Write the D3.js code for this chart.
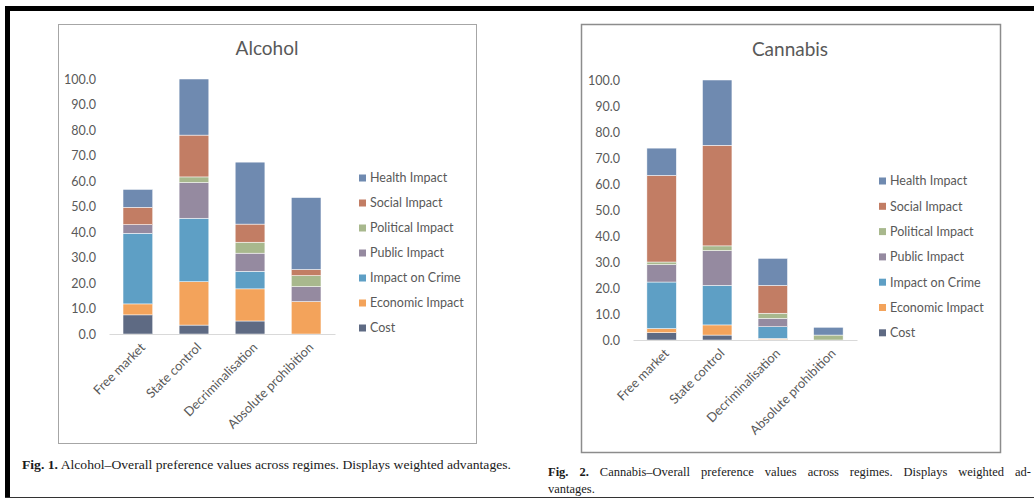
<!DOCTYPE html>
<html>
<head>
<meta charset="utf-8">
<script src="https://cdn.jsdelivr.net/npm/d3@7"></script>
<style>
  body { margin: 0; background: #fff; }
  svg { display: block; }
  .axis text { font-family: Lato, "Open Sans", sans-serif; fill: #595959; }
</style>
</head>
<body>
<svg id="page" width="1034" height="499"></svg>
<script>
// regimes on the x axis
const regimes = ['Free market', 'State control', 'Decriminalisation', 'Absolute prohibition'];

// series, bottom of the stack first
const criteria = ['Cost', 'Economic Impact', 'Impact on Crime', 'Public Impact', 'Political Impact', 'Social Impact', 'Health Impact'];
const criteriaColours = ['#5e6a83', '#f3a35b', '#5e9fc5', '#958aa0', '#a8b88d', '#c27d64', '#6f8ab0'];

// alcohol values per regime (same order as regimes)
const alcoholCost      = [7.5, 3.5, 5.1, 0];
const alcoholEconomic  = [4.3, 17.0, 12.6, 12.7];
const alcoholCrime     = [27.7, 24.9, 6.9, 0];
const alcoholPublic    = [3.4, 14.0, 7.1, 5.9];
const alcoholPolitical = [0, 2.2, 4.3, 4.3];
const alcoholSocial    = [6.8, 16.4, 7.1, 2.4];
const alcoholHealth    = [7.0, 22.0, 24.3, 28.2];

// cannabis values per regime
const cannabisCost      = [2.8, 1.9, 0.2, 0];
const cannabisEconomic  = [1.6, 3.9, 0.4, 0];
const cannabisCrime     = [17.9, 15.2, 4.5, 0];
const cannabisPublic    = [6.7, 13.4, 3.2, 0];
const cannabisPolitical = [1.0, 1.8, 2.0, 1.9];
const cannabisSocial    = [33.3, 38.7, 10.7, 0];
const cannabisHealth    = [10.5, 25.1, 10.4, 3.0];

const yTicks = [0, 10, 20, 30, 40, 50, 60, 70, 80, 90, 100];

// turn the series arrays into rows d3.stack can use
function buildRows(seriesList) {
  return regimes.map((r, i) => {
    const row = { regime: r };
    criteria.forEach((c, j) => { row[c] = seriesList[j][i]; });
    return row;
  });
}

const svg = d3.select('#page');

// page frame (scan border)
svg.append('rect').attr('x', 5).attr('y', 6).attr('width', 1029).attr('height', 5).attr('fill', '#000');
svg.append('rect').attr('x', 5).attr('y', 6).attr('width', 5).attr('height', 491).attr('fill', '#000');
svg.append('line').attr('x1', 5).attr('x2', 1034).attr('y1', 497.5).attr('y2', 497.5).attr('stroke', '#333');

function drawChart(cfg) {
  const g = svg.append('g');

  // chart box
  g.append('rect')
    .attr('x', cfg.box[0] + 0.5).attr('y', cfg.box[1] + 0.5)
    .attr('width', cfg.box[2]).attr('height', cfg.box[3])
    .attr('fill', '#fff').attr('stroke', cfg.boxStroke).attr('stroke-width', cfg.boxWidth);

  g.append('text')
    .attr('x', cfg.titleX).attr('y', cfg.titleY)
    .attr('text-anchor', 'middle')
    .style('font-family', 'Lato, "Open Sans", sans-serif')
    .style('font-size', '19px')
    .attr('fill', '#595959')
    .text(cfg.title);

  const x = d3.scaleBand().domain(regimes).range(cfg.xRange).paddingInner(0.47).paddingOuter(0.25);
  const y = d3.scaleLinear().domain([0, 100]).range(cfg.yRange);

  const stacked = d3.stack().keys(criteria)(buildRows(cfg.series));
  const colour = d3.scaleOrdinal().domain(criteria).range(criteriaColours);

  g.selectAll('.layer')
    .data(stacked)
    .join('g')
    .attr('class', 'layer')
    .attr('fill', d => colour(d.key))
    .selectAll('rect')
    .data(d => d)
    .join('rect')
    .attr('x', d => x(d.data.regime))
    .attr('width', x.bandwidth())
    .attr('y', d => y(d[1]))
    .attr('height', d => y(d[0]) - y(d[1]))
    .attr('stroke', '#fff')
    .attr('stroke-width', 0.5);

  // y axis, labels only
  const yAxis = g.append('g')
    .attr('class', 'axis')
    .attr('transform', `translate(${cfg.xRange[0] - 10},0)`)
    .call(d3.axisLeft(y).tickValues(yTicks).tickFormat(d3.format('.1f')).tickSize(0));
  yAxis.select('.domain').remove();
  yAxis.selectAll('text').style('font-size', '12.5px');

  // x axis
  const xAxis = g.append('g')
    .attr('class', 'axis')
    .attr('transform', `translate(0,${cfg.yRange[0]})`)
    .call(d3.axisBottom(x).tickSize(0).tickSizeOuter(0));
  xAxis.select('.domain').attr('stroke', '#d9d9d9');
  xAxis.selectAll('text')
    .style('font-size', '12.8px')
    .attr('text-anchor', 'end')
    .attr('transform', 'translate(5,11) rotate(-45)')
    .attr('dy', '0.35em')
    .attr('y', 0);

  // legend, top entry is the top of the stack
  const legend = g.append('g')
    .attr('transform', `translate(${cfg.legend[0]},${cfg.legend[1]})`);
  const items = legend.selectAll('g')
    .data(criteria.slice().reverse())
    .join('g')
    .attr('transform', (d, i) => `translate(0,${i * cfg.legend[2]})`);
  items.append('rect')
    .attr('x', 0).attr('y', -3.5).attr('width', 7).attr('height', 7)
    .attr('fill', d => colour(d));
  items.append('text')
    .attr('x', 11).attr('dy', '0.35em')
    .style('font-family', 'Lato, "Open Sans", sans-serif')
    .style('font-size', '12.5px')
    .attr('fill', '#595959')
    .text(d => d);
}

drawChart({
  title: 'Alcohol', titleX: 267, titleY: 55,
  box: [58, 24, 418, 419], boxStroke: '#a6a6a6', boxWidth: 1,
  xRange: [109, 335], yRange: [334, 79],
  legend: [359, 178, 25],
  series: [alcoholCost, alcoholEconomic, alcoholCrime, alcoholPublic, alcoholPolitical, alcoholSocial, alcoholHealth]
});

drawChart({
  title: 'Cannabis', titleX: 790, titleY: 56,
  box: [581, 24, 419, 428], boxStroke: '#8c8c8c', boxWidth: 1.5,
  xRange: [633, 857], yRange: [340, 80],
  legend: [879, 181, 25.3],
  series: [cannabisCost, cannabisEconomic, cannabisCrime, cannabisPublic, cannabisPolitical, cannabisSocial, cannabisHealth]
});

// captions
const serif = '"Liberation Serif", "DejaVu Serif", serif';
const cap1 = svg.append('text').attr('x', 22).attr('y', 469)
  .style('font-family', serif).style('font-size', '12.5px').attr('fill', '#1a1a1a')
  .attr('textLength', 489).attr('lengthAdjust', 'spacingAndGlyphs');
cap1.append('tspan').style('font-weight', 'bold').text('Fig. 1.');
cap1.append('tspan').text(' Alcohol–Overall preference values across regimes. Displays weighted advantages.');

// justified line: widen only the word gaps
const cap2 = svg.append('text').attr('x', 548).attr('y', 476)
  .style('font-family', serif).style('font-size', '12.5px').attr('fill', '#1a1a1a');
cap2.append('tspan').style('font-weight', 'bold').text('Fig. 2.');
cap2.append('tspan').text(' Cannabis–Overall preference values across regimes. Displays weighted ad-');
const natural = cap2.node().getComputedTextLength();
const gaps = cap2.text().split(' ').length - 1;
cap2.style('word-spacing', ((483 - natural) / gaps) + 'px');

svg.append('text').attr('x', 548).attr('y', 493)
  .style('font-family', serif).style('font-size', '12.5px').attr('fill', '#1a1a1a')
  .text('vantages.');
</script>
</body>
</html>
